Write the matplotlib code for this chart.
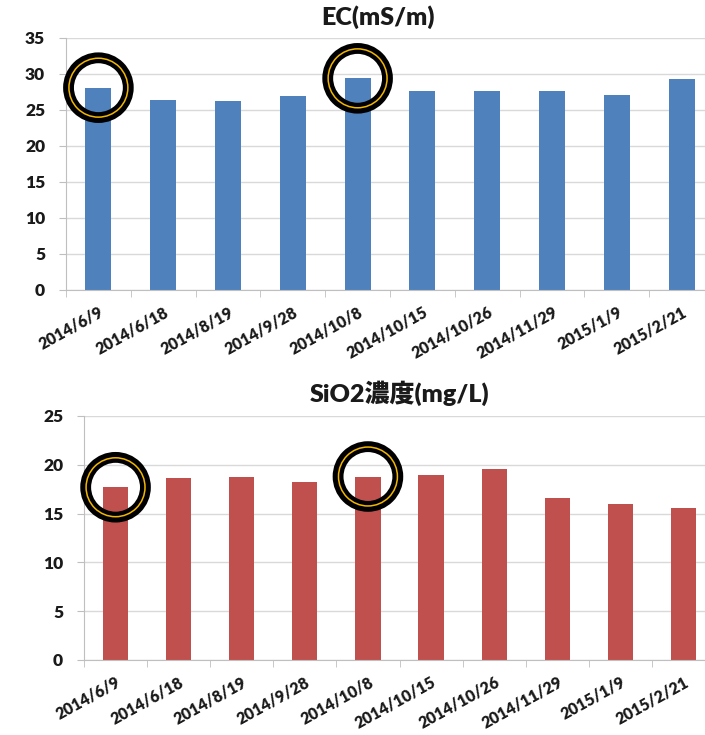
import numpy as np
import matplotlib
matplotlib.use("Agg")
import matplotlib.pyplot as plt

plt.rcParams['font.family'] = ['Lato', 'Noto Sans CJK JP', 'DejaVu Sans']

# sampling dates and measured values
dates = ['2014/6/9', '2014/6/18', '2014/8/19', '2014/9/28', '2014/10/8',
         '2014/10/15', '2014/10/26', '2014/11/29', '2015/1/9', '2015/2/21']
ec = [28.1, 26.4, 26.2, 26.9, 29.4, 27.7, 27.6, 27.7, 27.1, 29.3]
sio2 = [17.7, 18.6, 18.7, 18.2, 18.8, 19.0, 19.6, 16.6, 16.0, 15.6]
marked = [0, 4]  # samples that get a ring


def draw_panel(ax, vals, color, ymax, step):
    x = np.arange(len(vals))
    ax.bar(x, vals, width=0.4, color=color, zorder=2)
    ax.set_xlim(-0.5, len(vals) - 0.5)
    ax.set_ylim(0, ymax)
    ax.set_yticks(np.arange(0, ymax + 1, step))
    ax.yaxis.grid(True, color='#d9d9d9', lw=1, zorder=0)
    ax.set_axisbelow(True)
    for s in ['top', 'right']:
        ax.spines[s].set_visible(False)
    ax.spines['left'].set_color('#bfbfbf')
    ax.spines['bottom'].set_color('#bfbfbf')
    ax.tick_params(axis='y', length=5, color='#bfbfbf', pad=10, labelsize=12.5)
    for t in ax.get_yticklabels():
        t.set_fontweight('heavy')
        t.set_color('#1a1a1a')
    ax.set_xticks(x)
    ax.set_xticklabels(dates, rotation=29, ha='right', rotation_mode='anchor',
                       fontsize=11.5, fontweight='heavy', color='#1a1a1a')
    ax.tick_params(axis='x', which='major', length=0, pad=10)
    ax.set_xticks(np.arange(len(vals) + 1) - 0.5, minor=True)
    ax.tick_params(axis='x', which='minor', length=5, color='#bfbfbf',
                   direction='out')
    # rings around the highlighted samples
    mx = [i for i in marked]
    my = [vals[i] for i in marked]
    ax.scatter(mx, my, s=1850, facecolors='none', edgecolors='black',
               linewidths=7.8, zorder=5, clip_on=False)
    ax.scatter(mx, my, s=1800, facecolors='none', edgecolors='#f2b600',
               linewidths=1.1, zorder=6, clip_on=False)


fig = plt.figure(figsize=(7.05, 7.35), dpi=100)

ax1 = fig.add_axes([66 / 705, 1 - 290 / 735, 648 / 705, 252 / 735])
draw_panel(ax1, ec, '#4f81bd', 35, 5)
fig.text(378 / 705, 1 - 17 / 735, 'EC(mS/m)', ha='center', va='center',
         fontsize=18, fontweight='heavy', color='#1a1a1a')

ax2 = fig.add_axes([84 / 705, 1 - 660 / 735, 631 / 705, 244 / 735])
draw_panel(ax2, sio2, '#c0504d', 25, 5)
fig.text(400 / 705, 1 - 393 / 735, 'SiO2濃度(mg/L)', ha='center',
         va='center', fontsize=18, fontweight='heavy', color='#1a1a1a')

fig.savefig('out.png', dpi=100)
